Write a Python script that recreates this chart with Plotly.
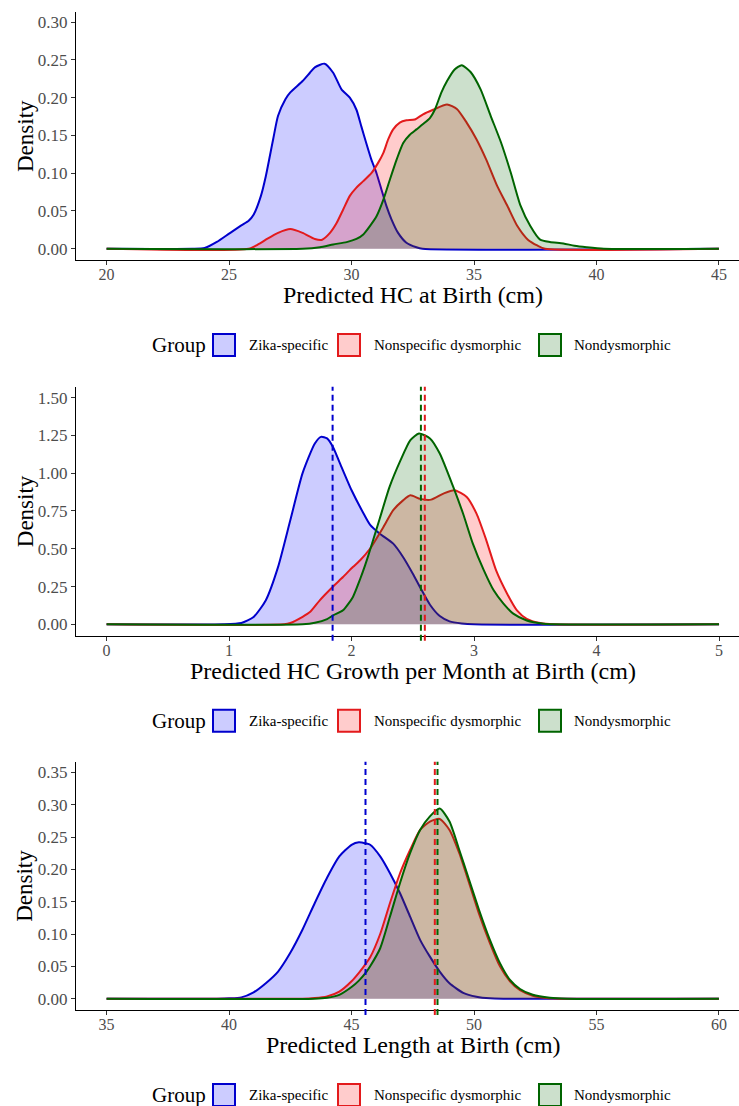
import plotly.graph_objects as go

# ---------------- data ----------------
groups = ["Zika-specific", "Nonspecific dysmorphic", "Nondysmorphic"]
line_colors = ["#0000CD", "#E31A1C", "#006400"]
fill_colors = ["rgba(0,0,255,0.2)", "rgba(255,0,0,0.2)", "rgba(0,100,0,0.2)"]

# Panel 1: Predicted HC at Birth (cm)
hc_zika_x = [20, 23.5, 24.0, 24.5, 25.0, 25.5, 25.8, 26.0, 26.3, 26.5, 26.8, 27.0, 27.3, 27.5, 28.0, 28.3,
             28.5, 28.9, 29.25, 29.59, 29.93, 30.2, 30.4, 30.6, 30.81, 31.02, 31.22, 31.43, 31.63, 31.9,
             32.24, 32.65, 32.9, 45]
hc_zika_y = [0, 0, 0.001, 0.009, 0.020, 0.031, 0.037, 0.045, 0.070, 0.096, 0.145, 0.176, 0.198, 0.207, 0.222,
             0.233, 0.240, 0.245, 0.233, 0.211, 0.200, 0.184, 0.162, 0.140, 0.118, 0.100, 0.0785, 0.056, 0.039,
             0.021, 0.008, 0.002, 0, 0]
hc_nonspec_x = [20, 25.8, 26.2, 26.5, 27.0, 27.5, 28.0, 28.5, 28.8, 29.12, 29.39, 29.66, 29.93, 30.2, 30.48,
                30.81, 31.09, 31.3, 31.5, 31.7, 31.97, 32.24, 32.58, 32.92, 33.33, 33.9, 34.3, 34.7, 35.1,
                35.5, 35.95, 36.36, 36.77, 37.2, 37.6, 37.9, 45]
hc_nonspec_y = [0, 0, 0.006, 0.012, 0.021, 0.026, 0.021, 0.013, 0.012, 0.021, 0.034, 0.052, 0.070, 0.081,
                0.0895, 0.100, 0.114, 0.127, 0.145, 0.158, 0.167, 0.170, 0.171, 0.178, 0.184, 0.191, 0.185,
                0.167, 0.145, 0.118, 0.083, 0.057, 0.030, 0.012, 0.004, 0, 0]
hc_nondys_x = [20, 28.0, 28.71, 29.25, 29.8, 30.2, 30.48, 30.75, 31.02, 31.3, 31.57, 31.84, 32.11, 32.38, 32.65,
               32.92, 33.2, 33.4, 33.67, 33.9, 34.2, 34.5, 34.86, 35.27, 35.68, 36.1, 36.5, 36.9, 37.3, 37.7,
               38.1, 38.65, 39.1, 39.6, 40.3, 45]
hc_nondys_y = [0, 0, 0.002, 0.0057, 0.0088, 0.013, 0.019, 0.030, 0.043, 0.065, 0.092, 0.118, 0.140, 0.151,
               0.158, 0.165, 0.173, 0.184, 0.207, 0.222, 0.237, 0.243, 0.234, 0.211, 0.176, 0.141, 0.101, 0.057,
               0.030, 0.012, 0.009, 0.007, 0.004, 0.002, 0, 0]
hc_xticks = [20, 25, 30, 35, 40, 45]
hc_yticks = [0, 0.05, 0.10, 0.15, 0.20, 0.25, 0.30]

# Panel 2: Predicted HC Growth per Month at Birth (cm)
gr_zika_x = [0, 0.95, 1.1, 1.2, 1.3, 1.4, 1.5, 1.6, 1.7, 1.75, 1.8, 1.85, 1.9, 2.0, 2.1, 2.15, 2.23, 2.34,
             2.42, 2.5, 2.566, 2.64, 2.72, 2.8, 2.9, 3.0, 5]
gr_zika_y = [0, 0, 0.009, 0.049, 0.16, 0.38, 0.69, 1.00, 1.196, 1.24, 1.23, 1.17, 1.075, 0.887, 0.73, 0.66,
             0.60, 0.534, 0.446, 0.335, 0.235, 0.13, 0.055, 0.02, 0.006, 0, 0]
gr_nonspec_x = [0, 1.45, 1.5, 1.6, 1.66, 1.74, 1.845, 1.93, 2.01, 2.07, 2.15, 2.26, 2.34, 2.42, 2.48, 2.56,
                2.65, 2.75, 2.84, 2.94, 3.02, 3.1, 3.18, 3.27, 3.35, 3.43, 3.54, 3.65, 5]
gr_nonspec_y = [0, 0, 0.009, 0.05, 0.081, 0.159, 0.247, 0.313, 0.379, 0.424, 0.50, 0.644, 0.755, 0.82, 0.854,
                0.83, 0.825, 0.865, 0.887, 0.843, 0.732, 0.556, 0.357, 0.203, 0.093, 0.037, 0.009, 0, 0]
gr_nondys_x = [0, 1.6, 1.7, 1.8, 1.85, 1.93, 2.01, 2.07, 2.11, 2.15, 2.23, 2.31, 2.4, 2.48, 2.55, 2.64, 2.72,
               2.83, 2.91, 2.99, 3.08, 3.16, 3.24, 3.32, 3.43, 3.57, 3.65, 5]
gr_nondys_y = [0, 0, 0.01, 0.035, 0.06, 0.093, 0.18, 0.30, 0.39, 0.49, 0.70, 0.909, 1.086, 1.218, 1.262, 1.23,
               1.13, 0.909, 0.733, 0.534, 0.357, 0.225, 0.137, 0.071, 0.026, 0.004, 0, 0]
gr_means = [1.845, 2.598, 2.566]
gr_xticks = [0, 1, 2, 3, 4, 5]
gr_yticks = [0, 0.25, 0.50, 0.75, 1.00, 1.25, 1.50]

# Panel 3: Predicted Length at Birth (cm)
len_zika_x = [35, 39.5, 40, 40.5, 41, 41.5, 42, 42.5, 43, 43.5, 44, 44.5, 45, 45.3, 45.6, 45.76, 46.17, 46.57,
              46.98, 47.39, 47.8, 48.2, 48.6, 49.0, 49.56, 50.1, 50.66, 51.2, 60]
len_zika_y = [0, 0, 0.0005, 0.002, 0.0098, 0.024, 0.042, 0.071, 0.107, 0.148, 0.187, 0.22, 0.238, 0.242, 0.24,
              0.238, 0.22, 0.194, 0.163, 0.127, 0.091, 0.065, 0.042, 0.024, 0.009, 0.003, 0.0005, 0, 0]
len_nonspec_x = [35, 43, 43.5, 44, 44.5, 45, 45.3, 45.6, 45.76, 46.17, 46.57, 46.98, 47.39, 47.8, 48.2, 48.6,
                 49.0, 49.4, 49.8, 50.2, 50.65, 51.06, 51.47, 51.88, 52.4, 52.97, 53.5, 60]
len_nonspec_y = [0, 0, 0.001, 0.0036, 0.011, 0.027, 0.04, 0.055, 0.064, 0.10, 0.148, 0.194, 0.23, 0.261, 0.274,
                 0.278, 0.261, 0.225, 0.179, 0.132, 0.086, 0.05, 0.027, 0.013, 0.0046, 0.001, 0, 0]
len_nondys_x = [35, 43.5, 44, 44.5, 45, 45.3, 45.6, 45.76, 46.17, 46.57, 46.98, 47.39, 47.8, 48.2, 48.6, 49.0,
                49.4, 49.8, 50.2, 50.65, 51.06, 51.47, 51.88, 52.4, 53.1, 53.8, 60]
len_nondys_y = [0, 0, 0.0015, 0.006, 0.018, 0.028, 0.041, 0.050, 0.078, 0.127, 0.179, 0.225, 0.261, 0.282,
                0.294, 0.274, 0.23, 0.184, 0.138, 0.091, 0.055, 0.029, 0.015, 0.006, 0.0015, 0, 0]
len_means = [45.57, 48.40, 48.51]
len_xticks = [35, 40, 45, 50, 55, 60]
len_yticks = [0, 0.05, 0.10, 0.15, 0.20, 0.25, 0.30, 0.35]

x_titles = ["Predicted HC at Birth (cm)",
            "Predicted HC Growth per Month at Birth (cm)",
            "Predicted Length at Birth (cm)"]

# ---------------- layout geometry ----------------
W, H = 739, 1106
ML, MR, MT, MB = 76, 0, 12, 96
PW, PH = W - ML - MR, H - MT - MB
FONT = "Liberation Serif"


def pxx(p):
    return (p - ML) / PW


def pxy(p):
    return (H - MB - p) / PH


panels = [
    dict(series=[(hc_zika_x, hc_zika_y), (hc_nonspec_x, hc_nonspec_y), (hc_nondys_x, hc_nondys_y)],
         means=None, xticks=hc_xticks, yticks=hc_yticks,
         xrange=[18.75, 45.82], yrange=[-0.0149, 0.3134], top=12, bottom=260),
    dict(series=[(gr_zika_x, gr_zika_y), (gr_nonspec_x, gr_nonspec_y), (gr_nondys_x, gr_nondys_y)],
         means=gr_means, xticks=gr_xticks, yticks=gr_yticks,
         xrange=[-0.25, 5.163], yrange=[-0.075, 1.572], top=386.7, bottom=635.7),
    dict(series=[(len_zika_x, len_zika_y), (len_nonspec_x, len_nonspec_y), (len_nondys_x, len_nondys_y)],
         means=len_means, xticks=len_xticks, yticks=len_yticks,
         xrange=[33.75, 60.82], yrange=[-0.0175, 0.3665], top=761.7, bottom=1010),
]

fig = go.Figure()
layout = dict(width=W, height=H, margin=dict(l=ML, r=MR, t=MT, b=MB),
              paper_bgcolor="white", plot_bgcolor="white", showlegend=False,
              font=dict(family=FONT, color="black"))
shapes, annotations = [], []

for i, p in enumerate(panels):
    n = "" if i == 0 else str(i + 1)
    xa, ya = "x" + n, "y" + n
    for (xs, ys), lc, fc in zip(p["series"], line_colors, fill_colors):
        fig.add_trace(go.Scatter(x=xs, y=ys, xaxis=xa, yaxis=ya, mode="lines",
                                 line=dict(color=lc, width=2, shape="spline", smoothing=0.6),
                                 fill="tozeroy", fillcolor=fc, hoverinfo="skip"))
    axis_common = dict(showgrid=False, zeroline=False, showline=True, linecolor="black", linewidth=1,
                       ticks="outside", ticklen=4, tickwidth=1, tickcolor="#333333")
    layout["xaxis" + n] = dict(axis_common, domain=[0, 1], range=p["xrange"], anchor=ya,
                               tickmode="array", tickvals=p["xticks"],
                               ticktext=[str(v) for v in p["xticks"]], ticklabelstandoff=-4,
                               tickfont=dict(family=FONT, size=16, color="#4D4D4D"))
    layout["yaxis" + n] = dict(axis_common, domain=[pxy(p["bottom"]), pxy(p["top"])], range=p["yrange"],
                               anchor=xa, tickmode="array", tickvals=p["yticks"],
                               ticktext=["%.2f" % v for v in p["yticks"]],
                               tickfont=dict(family=FONT, size=17, color="#4D4D4D"))
    # mean lines
    if p["means"]:
        for m, lc in zip(p["means"], line_colors):
            shapes.append(dict(type="line", xref=xa, yref=ya + " domain", x0=m, x1=m, y0=-0.02, y1=1,
                               line=dict(color=lc, width=2, dash="6px,4px")))
    # axis titles
    mid = (p["top"] + p["bottom"]) / 2
    annotations.append(dict(text="Density", xref="paper", yref="paper", x=pxx(25), y=pxy(mid),
                            textangle=-90, showarrow=False, xanchor="center", yanchor="middle",
                            font=dict(family=FONT, size=23, color="black")))
    annotations.append(dict(text=x_titles[i], xref="paper", yref="paper", x=pxx(413), y=pxy(p["bottom"] + 35),
                            showarrow=False, xanchor="center", yanchor="middle",
                            font=dict(family=FONT, size=24, color="black")))
    # legend (ggplot-style bottom legend)
    ly = p["bottom"] + 85
    annotations.append(dict(text="Group", xref="paper", yref="paper", x=pxx(150), y=pxy(ly),
                            showarrow=False, xanchor="left", yanchor="middle",
                            font=dict(family=FONT, size=21, color="black")))
    key_x = [213, 338, 539]
    lab_x = [247, 372, 572]
    for g, lc, fc, kx, tx in zip(groups, line_colors, fill_colors, key_x, lab_x):
        shapes.append(dict(type="rect", xref="paper", yref="paper", x0=pxx(kx), x1=pxx(kx + 22),
                           y0=pxy(ly + 11), y1=pxy(ly - 11), fillcolor=fc, line=dict(color=lc, width=2)))
        annotations.append(dict(text=g, xref="paper", yref="paper", x=pxx(tx), y=pxy(ly),
                                showarrow=False, xanchor="left", yanchor="middle",
                                font=dict(family=FONT, size=15, color="black")))

layout["shapes"] = shapes
layout["annotations"] = annotations
fig.update_layout(**layout)
fig.write_html("out.html")
